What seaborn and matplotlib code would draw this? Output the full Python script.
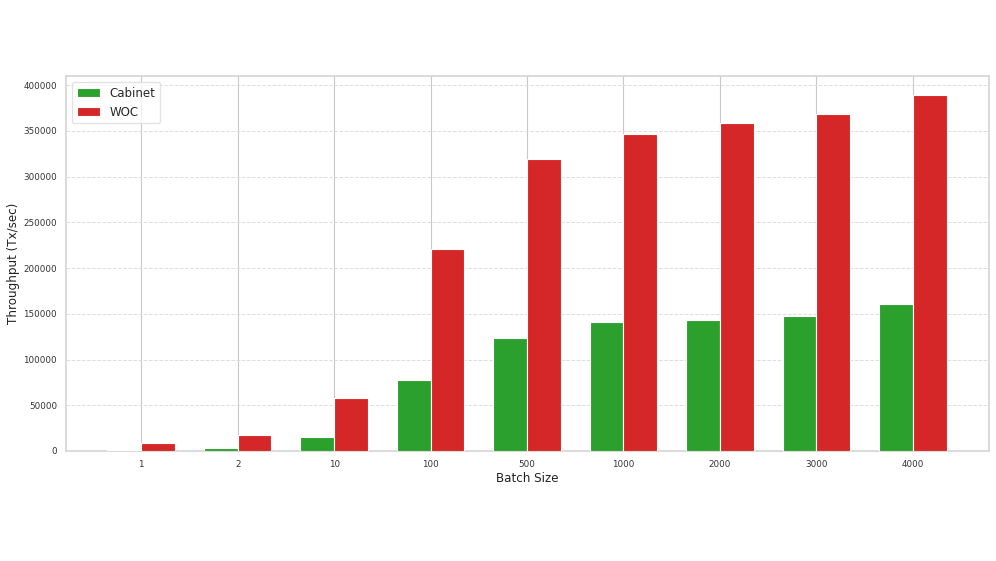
import matplotlib
matplotlib.use("Agg")
import matplotlib.pyplot as plt
import seaborn as sns
import pandas as pd

batch_sizes = ["1", "2", "10", "100", "500", "1000", "2000", "3000", "4000"]
cabinet = [1500, 3800, 15600, 77600, 123300, 141300, 143500, 147900, 160400]
woc = [9000, 17500, 58300, 220800, 318800, 346100, 358500, 368900, 389600]

df = pd.DataFrame({
    "Batch Size": batch_sizes * 2,
    "Throughput": cabinet + woc,
    "System": ["Cabinet"] * len(batch_sizes) + ["WOC"] * len(batch_sizes),
})

sns.set_theme(style="whitegrid")
fig = plt.figure(figsize=(9.96, 5.61), dpi=100)
ax = fig.add_axes([66 / 996, 1 - 451 / 561, (989 - 66) / 996, (451 - 76) / 561])

sns.barplot(data=df, x="Batch Size", y="Throughput", hue="System",
            order=batch_sizes, hue_order=["Cabinet", "WOC"],
            palette={"Cabinet": "#2ca02c", "WOC": "#d62728"}, saturation=1,
            width=0.7, edgecolor="white", linewidth=0.8, ax=ax, zorder=3)

ax.set_axisbelow(True)
ax.xaxis.grid(True, color="#c8c8c8", linestyle="-", linewidth=0.8)
ax.yaxis.grid(True, color="#dddddd", linestyle="--", linewidth=0.7)
for s in ax.spines.values():
    s.set_color("#d6d6d6")
ax.tick_params(axis="both", labelsize=6.3, colors="#333333", length=0, pad=6.5)
ax.set_xlabel("Batch Size", fontsize=8.6, color="#222222", labelpad=2)
ax.set_ylabel("Throughput (Tx/sec)", fontsize=8.6, color="#222222", labelpad=2)
ax.ticklabel_format(axis="y", style="plain")
ax.set_yticks(range(0, 400001, 50000))
ax.set_ylim(0, 410000)
ax.set_xlim(-0.78, 8.79)

leg = ax.legend(loc="upper left", fontsize=8.5, frameon=True, handlelength=2.0,
                borderaxespad=0.5)
leg.get_frame().set_edgecolor("#dddddd")

fig.savefig("out.png", dpi=100)
